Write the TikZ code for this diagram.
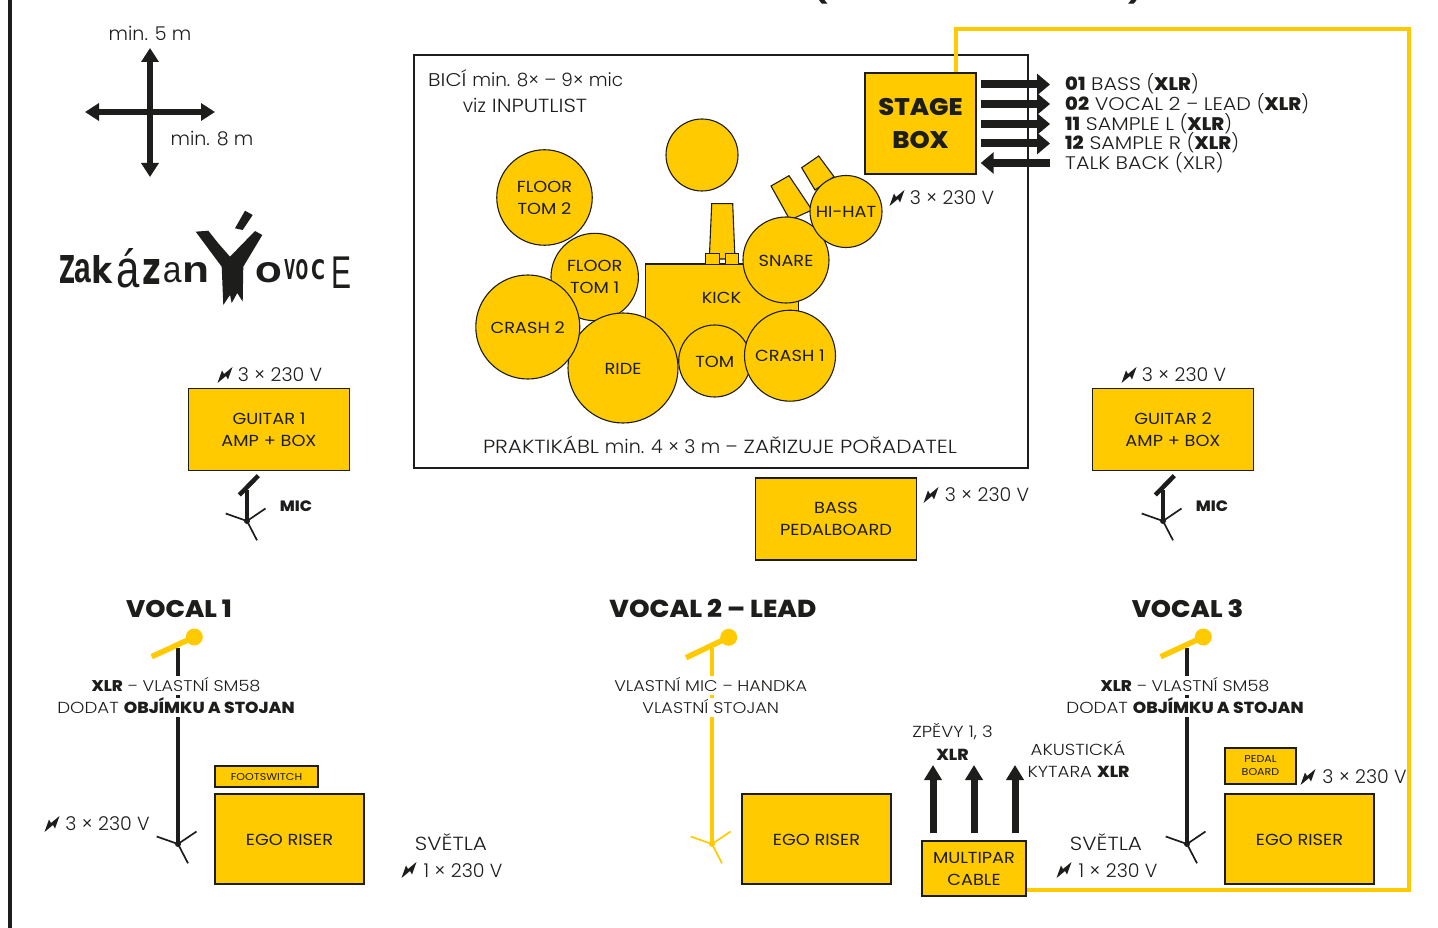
\documentclass[tikz,border=0pt]{standalone}
\usepackage{graphicx}
\usepackage{fontspec}
\setmainfont{Poppins Light}[UprightFeatures={FakeStretch=1.14},BoldFont={Poppins ExtraBold},BoldFeatures={FakeStretch=1.07}]
\newfontfamily\lc{Poppins Light}
\newfontfamily\boxf{Poppins}[UprightFeatures={FakeStretch=1.11}]
\newfontfamily\logoA{Liberation Sans}
\newfontfamily\logoB{DejaVu Sans}
\usetikzlibrary{arrows.meta,calc}
\definecolor{gold}{HTML}{FFCB00}
\definecolor{ink}{HTML}{1D1D1B}
\tikzset{
  T/.style={font=\fontsize{#1}{22}\selectfont,text=ink,inner sep=0pt,
    text height={0.9*#1 pt},text depth={0.1*#1 pt}},
  TW/.style={T=#1,fill=white,text height=15pt,text depth=4pt},
  box/.style={draw=ink,fill=gold,line width=1.4pt,inner sep=0pt,align=center,
    text=ink,font=\fontsize{16}{22}\selectfont\boxf},
  nudge/.style={execute at begin node={\rule{0pt}{13.2pt}}},
  drum/.style={circle,draw=ink,fill=gold,line width=1.1pt,inner sep=0pt,align=center,
    text=ink,font=\fontsize{16}{22}\selectfont\boxf,minimum size=#1},
  part/.style={draw=ink,fill=gold,line width=1.1pt},
  bigarr/.style={draw=ink,line width=8pt,-{Triangle[width=21pt,length=13pt]}},
  uparr/.style={draw=ink,line width=7pt,-{Triangle[width=17pt,length=15pt]}},
  cross/.style={draw=ink,line width=6.5pt,{Triangle[width=17pt,length=14pt]}-{Triangle[width=17pt,length=14pt]}},
  pics/legs/.style={code={
    \draw[line width=1.7pt,draw=#1] (-21.3,-7.5)--(0,0)--(18.5,-12.5) (0,0)--(10,19.3);
    \fill[#1] (0,0) circle (3pt);}},
  pics/bolt/.style={code={
    \fill[ink] (-7.5,8)--(-3,-4.5)--(-1,-1)--(7.5,-8)--(3,4.5)--(1,1)--cycle;}},
}
\newcommand{\logochar}[7]{\node[inner sep=0pt,text=ink] (#1) at (#2,#3) {\resizebox{#4pt}{#5pt}{\fontsize{32}{32}\selectfont #6{}#7}};}
\begin{document}
\begin{tikzpicture}[x=1pt,y=-1pt]
\useasboundingbox (0,0) rectangle (1438,928);
% top clipped title and left rule
\node[T=26] (parL) at (821,-12) {\bfseries (};
\node[T=26] (parR) at (1135,-12) {\bfseries )};
\fill[ink] (8,0) rectangle (11.5,928);
% cross
\coordinate (cN) at (150,48); \coordinate (cS) at (150,177);
\coordinate (cW) at (85,112); \coordinate (cE) at (215,112);
\draw[cross] (cN)--(cS);
\draw[cross] (cW)--(cE);
\node[T=19] (m5) at (150,33) {\lc min. 5 m};
\node[T=19] (m8) at (212,138) {\lc min. 8 m};
% logo
\logochar{lZ}{67}{269.5}{16}{28}{\logoB\bfseries}{Z}
\logochar{la}{83.3}{271}{16.7}{23}{\logoA\bfseries}{a}
\logochar{lk}{102.3}{269.5}{21}{28}{\logoB\bfseries}{k}
\logochar{lazz}{128.3}{268}{23.3}{39}{\logoA}{á}
\logochar{lz}{152.3}{272.5}{18.7}{25}{\logoB\bfseries}{z}
\logochar{la2}{172.3}{273}{18.7}{20}{\logoA}{a}
\logochar{ln}{195.5}{273}{27}{20}{\logoA\bfseries}{n}
\fill[ink] (195.7,231.7)--(208.3,230.7)--(218,243)--(230,256.7)--(255,231)--(262.3,235)--(243.3,266.7)--(242.7,301.7)--(237.3,293)--(231.7,303)--(230,295)--(223.3,305)--(221.7,266.7)--cycle;
\fill[ink] (235,228.3)--(245,210.7)--(252.7,215)--(242.7,230)--cycle;
\logochar{lO}{268.5}{273}{26.7}{20}{\logoB\bfseries}{O}
\logochar{lV}{289.7}{270}{10.7}{20}{\logoB\bfseries}{V}
\logochar{lO2}{302}{270}{12.7}{20}{\logoB\bfseries}{O}
\logochar{lC}{318}{270}{14}{20}{\logoB\bfseries}{C}
\logochar{lE}{341.7}{272.5}{20}{31.6}{\logoA}{E}
% stage
\node[draw=ink,line width=1.3pt,minimum width=614pt,minimum height=413pt,inner sep=0pt] (stage) at (721,261.5) {};
\coordinate (y1) at (956,29); \coordinate (y2) at (1409,29); \coordinate (y3) at (1409,890);
\node[box,font=\fontsize{24}{33}\selectfont\bfseries,minimum width=111pt,minimum height=101pt] (sbox) at (920.5,123.5) {STAGE\\BOX};
\node[T=18.2,anchor=west] (l1) at (1065,83) {{\bfseries 01} BASS {\lc(}{\bfseries XLR}{\lc)}};
\node[T=18.2,anchor=west] (l2) at (1065,103) {{\bfseries 02} VOCAL 2 {\lc –} LEAD {\lc(}{\bfseries XLR}{\lc)}};
\node[T=18.2,anchor=west] (l3) at (1065,123) {{\bfseries 11} SAMPLE L {\lc(}{\bfseries XLR}{\lc)}};
\node[T=18.2,anchor=west] (l4) at (1065,142) {{\bfseries 12} SAMPLE R {\lc(}{\bfseries XLR}{\lc)}};
\node[T=18.2,anchor=west] (l5) at (1065,162) {TALK BACK {\lc(}XLR{\lc)}};
\coordinate (a1) at (1050,84.5); \coordinate (a2) at (1050,104); \coordinate (a3) at (1050,124); \coordinate (a4) at (1050,143.5); \coordinate (a5) at (1050,163);
\foreach \a in {a1,a2,a3,a4} \draw[bigarr] (sbox.east |- \a) ++(4,0) -- (\a);
\draw[bigarr] (a5) -- ($(sbox.east |- a5)+(4,0)$);
\pic at (897,198) {bolt};
\node[T=19] (v1) at (952,197.3) {\lc 3 × 230 V};
\node[T=18.4,anchor=west] (bici) at (428,79) {BICÍ {\lc min. 8× – 9× mic}};
\node[T=19] (viz) at (525,105) {{\lc viz} INPUTLIST};
\node[T=19] (prak) at (720,446) {PRAKTIKÁBL {\lc min. 4 × 3 m –} ZAŘIZUJE POŘADATEL};
% drums
\node[part,minimum width=153pt,minimum height=97pt,inner sep=0pt] (kick) at (722,312.5) {};
\node[text=ink,font=\fontsize{16}{22}\selectfont\boxf,inner sep=0pt] (kicktxt) at (721.5,297.5) {KICK};
\draw[part] (711.7,203.7)--(732.7,203.7)--(735,259)--(709.3,259)--cycle;
\node[part,minimum width=13.6pt,minimum height=10.5pt,inner sep=0pt] (pedalL) at (712.5,259) {};
\node[part,minimum width=12.6pt,minimum height=10.5pt,inner sep=0pt] (pedalR) at (732,259) {};
\draw[part] (771,186)--(789,175.7)--(812,210)--(790,220)--cycle;
\draw[part] (801.7,167.7)--(818.7,156)--(834,176.7)--(815,190)--cycle;
\node[drum=95.5pt] (ft2) at (544.5,197.5) {FLOOR\\TOM 2};
\node[drum=72pt] (throne) at (702,155) {};
\node[drum=87.4pt,nudge] (ft1) at (594.7,277) {FLOOR\\TOM 1};
\node[drum=110pt,nudge] (ride) at (623,368) {RIDE};
\node[drum=104pt,nudge] (cr2) at (527.8,327) {CRASH 2};
\node[drum=72pt,nudge] (tom) at (714.7,361) {TOM};
\node[drum=91pt] (cr1) at (790,355.7) {CRASH 1};
\node[drum=86pt,nudge] (snare) at (786,260) {SNARE};
\node[drum=72pt] (hihat) at (846,211.5) {HI-HAT};
% guitars
\node[box,minimum width=160.5pt,minimum height=82pt] (g1) at (269,429.7) {GUITAR 1\\AMP + BOX};
\pic at (225,375) {bolt};
\node[T=19] (g1v) at (280,374) {\lc 3 × 230 V};
\draw[draw=ink,line width=4pt] (247,490)--(247,521);
\draw[draw=ink,line width=4.5pt] (239.3,495)--(258.3,475.7);
\pic at (247,521) {legs=ink};
\node[T=15] (m1) at (296,505) {\bfseries MIC};
\node[box,minimum width=160.5pt,minimum height=82pt] (g2) at (1173,429.7) {GUITAR 2\\AMP + BOX};
\pic at (1129,375) {bolt};
\node[T=19] (g2v) at (1184,374) {\lc 3 × 230 V};
\draw[draw=ink,line width=4pt] (1163,490)--(1163,521);
\draw[draw=ink,line width=4.5pt] (1155.3,495)--(1174.3,475.7);
\pic at (1163,521) {legs=ink};
\node[T=15] (m2) at (1212,505) {\bfseries MIC};
% bass
\node[box,nudge,minimum width=160.5pt,minimum height=82pt] (bass) at (836,519) {BASS\\PEDALBOARD};
\pic at (931,495) {bolt};
\node[T=19] (bv) at (987,494.3) {\lc 3 × 230 V};
% vocal 1
\node[T=24] (vt1) at (179,608) {\bfseries VOCAL 1};
\draw[draw=ink,line width=3.5pt] (178,648)--(178,844);
\pic at (178,844) {legs=ink};
\draw[draw=gold,line width=5.5pt] (151.7,656.7)--(194.3,637);
\node[circle,fill=gold,minimum size=17pt,inner sep=0pt] (h1) at (194.3,637) {};
\node[TW=15.5] (x1a) at (176,685.5) {{\bfseries XLR} {\lc –} VLASTNÍ SM58};
\node[TW=16] (x1b) at (176,707.5) {DODAT {\bfseries OBJÍMKU A STOJAN}};
\node[box,font=\fontsize{10}{13}\selectfont\boxf,minimum width=103pt,minimum height=21pt] (fs) at (266.5,776.5) {FOOTSWITCH};
\node[box,nudge,minimum width=149pt,minimum height=90pt] (er1) at (289.5,839) {EGO RISER};
\pic at (52,824) {bolt};
\node[T=19] (vv1) at (107.5,823.3) {\lc 3 × 230 V};
\node[T=19] (sv1) at (451,843.3) {SVĚTLA};
\pic at (409,870) {bolt};
\node[T=19] (sv1v) at (463,869.5) {\lc 1 × 230 V};
% vocal 2
\node[T=24.5] (vt2) at (713,608) {\bfseries VOCAL 2 – LEAD};
\draw[draw=gold,line width=3.5pt] (712,648)--(712,844);
\pic at (712,844) {legs=gold};
\draw[draw=gold,line width=5.5pt] (686,657.7)--(728.7,637.3);
\node[circle,fill=gold,minimum size=17pt,inner sep=0pt] (h2) at (728.7,637.3) {};
\node[TW=15.5] (x2a) at (710.7,685.5) {VLASTNÍ MIC {\lc –} HANDKA};
\node[TW=15.5] (x2b) at (710.7,707.5) {VLASTNÍ STOJAN};
\node[box,nudge,minimum width=149pt,minimum height=90pt] (er2) at (816.5,839) {EGO RISER};
% vocal 3
\node[T=24] (vt3) at (1187.5,608) {\bfseries VOCAL 3};
\draw[draw=ink,line width=3.5pt] (1187,648)--(1187,844);
\pic at (1187,844) {legs=ink};
\draw[draw=gold,line width=5.5pt] (1160.7,656.7)--(1203.3,637);
\node[circle,fill=gold,minimum size=17pt,inner sep=0pt] (h3) at (1203.3,637) {};
\node[TW=15.5] (x3a) at (1185,685.5) {{\bfseries XLR} {\lc –} VLASTNÍ SM58};
\node[TW=16] (x3b) at (1185,707.5) {DODAT {\bfseries OBJÍMKU A STOJAN}};
\node[box,font=\fontsize{10}{13}\selectfont\boxf,minimum width=71pt,minimum height=36pt] (pb) at (1260.5,766) {PEDAL\\BOARD};
\node[box,nudge,minimum width=149pt,minimum height=90pt] (er3) at (1299.5,839) {EGO RISER};
\pic at (1308,777) {bolt};
\node[T=19] (vv3) at (1364.5,775.5) {\lc 3 × 230 V};
\node[T=19] (sv3) at (1106,843.3) {SVĚTLA};
\pic at (1064,870) {bolt};
\node[T=19] (sv3v) at (1118,869.5) {\lc 1 × 230 V};
% multipar
\node[box,minimum width=104pt,minimum height=55pt] (mp) at (974,868.5) {MULTIPAR\\CABLE};
\coordinate (u1) at (933,765); \coordinate (u2) at (974,765); \coordinate (u3) at (1015,765);
\foreach \u in {u1,u2,u3} \draw[uparr] (mp.north -| \u) ++(0,-7) -- (\u);
\node[T=16] (zp) at (952.5,731) {ZPĚVY 1, 3};
\node[T=16] (zx) at (952.5,754) {\bfseries XLR};
\node[T=16] (ak) at (1078,749) {AKUSTICKÁ};
\node[T=16] (ky) at (1078.5,771) {KYTARA {\bfseries XLR}};
% yellow cable
\draw[draw=gold,line width=4pt,line join=miter] (sbox.north -| y1) -- (y1) -- (y2) -- (y3) -- (mp.east |- y3);
\end{tikzpicture}
\end{document}
